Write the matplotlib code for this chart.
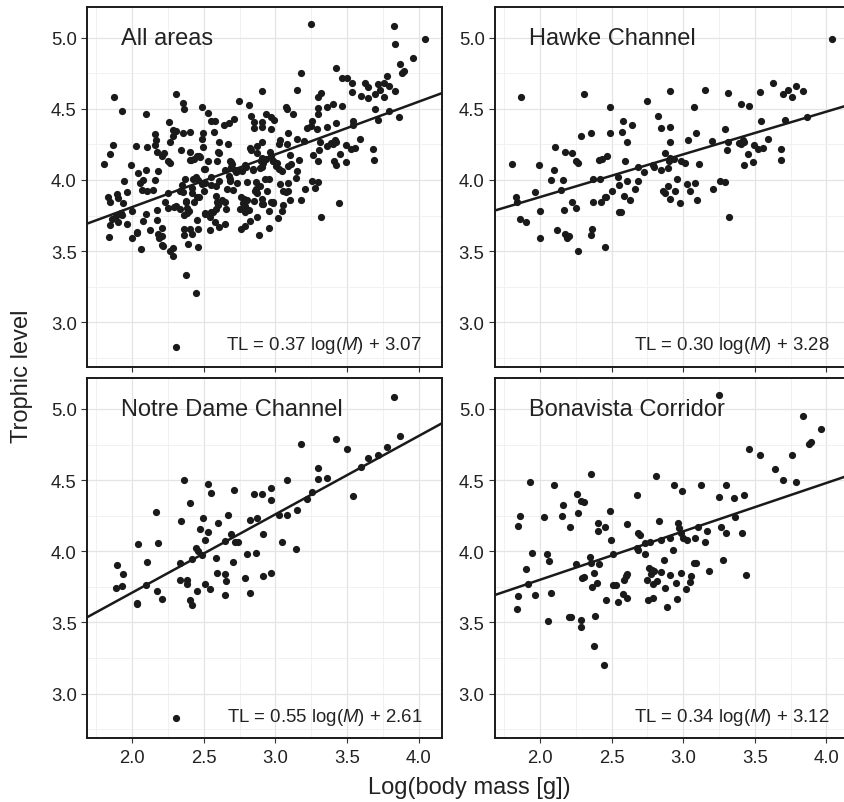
import numpy as np
import matplotlib
matplotlib.use('Agg')
import matplotlib.pyplot as plt
from matplotlib.ticker import MultipleLocator

# ---- data: log10 body mass [g] vs trophic level ----
hawke_x = [4.042, 1.870, 2.309, 2.486, 2.747, 2.907, 3.077, 3.153, 3.316, 3.402,
           3.463, 3.537, 3.628, 3.695, 3.730, 3.758, 3.791, 3.837, 3.865, 3.714,
           3.542, 3.593, 3.556, 3.526, 3.495, 3.681, 3.686, 3.451, 3.423, 3.491,
           3.426, 3.402, 3.419, 3.391, 3.293, 3.314, 3.305, 3.256, 3.295, 3.319,
           3.202, 3.205, 3.091, 3.035, 3.112, 3.086, 3.030, 3.051, 3.100, 3.012,
           2.986, 2.956, 2.940, 2.981, 2.907, 2.893, 2.858, 2.870, 2.905, 2.847,
           2.826, 2.905, 2.874, 2.898, 2.909, 2.937, 2.891, 2.842, 2.786, 2.793,
           2.726, 2.688, 2.684, 2.665, 2.626, 2.586, 2.609, 2.595, 2.605, 2.644,
           2.579, 2.570, 2.491, 2.547, 2.549, 2.553, 2.563, 2.502, 2.463, 2.451,
           2.428, 2.372, 2.456, 2.465, 2.433, 2.421, 2.367, 2.356, 2.288, 2.360,
           2.358, 2.265, 2.253, 2.265, 2.223, 2.172, 2.251, 2.226, 2.170, 2.177,
           2.188, 2.205, 2.121, 2.158, 2.144, 2.105, 2.098, 2.077, 1.991, 1.963,
           1.998, 2.000, 1.902, 1.860, 1.830, 1.842, 1.802, 2.409]
hawke_y = [4.988, 4.583, 4.604, 4.513, 4.557, 4.623, 4.513, 4.630, 4.611, 4.536,
           4.520, 4.621, 4.679, 4.602, 4.630, 4.581, 4.660, 4.628, 4.443, 4.422,
           4.417, 4.286, 4.222, 4.218, 4.248, 4.215, 4.143, 4.185, 4.103, 4.126,
           4.267, 4.251, 4.279, 4.262, 4.356, 4.267, 4.208, 3.991, 3.984, 3.742,
           4.274, 3.937, 4.328, 4.279, 4.112, 3.981, 3.970, 3.920, 3.857, 4.119,
           4.131, 4.009, 3.920, 3.838, 3.869, 3.960, 3.920, 3.906, 4.372, 4.363,
           4.450, 4.267, 4.187, 4.131, 4.155, 4.150, 4.087, 4.068, 4.103, 4.091,
           4.056, 4.091, 3.995, 3.937, 3.859, 3.888, 3.991, 4.136, 4.265, 4.384,
           4.415, 4.335, 4.333, 4.021, 3.967, 3.775, 3.773, 3.920, 3.883, 3.878,
           3.843, 3.848, 3.527, 4.169, 4.150, 4.009, 4.005, 4.328, 4.311, 3.658,
           3.611, 3.501, 4.133, 4.119, 4.192, 4.199, 3.801, 3.843, 3.789, 3.621,
           3.593, 3.604, 3.649, 4.000, 3.932, 4.232, 4.070, 3.998, 4.103, 3.918,
           3.785, 3.590, 3.703, 3.724, 3.881, 3.845, 4.115, 4.143]

notre_x = [3.826, 3.870, 3.781, 3.716, 3.649, 3.595, 3.540, 3.502, 3.423, 3.360,
           3.298, 3.295, 3.256, 3.221, 3.177, 3.149, 3.144, 3.079, 3.079, 3.026,
           3.047, 2.967, 2.967, 2.909, 2.847, 2.874, 2.819, 2.916, 2.863, 2.802,
           2.972, 2.916, 2.786, 2.819, 2.714, 2.670, 2.688, 2.651, 2.719, 2.737,
           2.707, 2.649, 2.653, 2.595, 2.649, 2.588, 2.598, 2.547, 2.528, 2.530,
           2.491, 2.470, 2.507, 2.444, 2.460, 2.484, 2.416, 2.509, 2.542, 2.453,
           2.402, 2.358, 2.337, 2.333, 2.333, 2.381, 2.384, 2.400, 2.416, 2.165,
           2.177, 2.037, 2.100, 2.093, 2.174, 2.205, 2.030, 2.035, 1.895, 1.937,
           1.886, 1.928, 2.303]
notre_y = [5.084, 4.813, 4.731, 4.675, 4.654, 4.591, 4.388, 4.720, 4.790, 4.516,
           4.582, 4.509, 4.416, 4.367, 4.755, 4.287, 4.014, 4.498, 4.255, 4.252,
           4.065, 4.446, 4.360, 4.404, 4.404, 4.236, 4.222, 4.119, 3.986, 3.984,
           3.846, 3.829, 3.815, 3.710, 4.428, 4.252, 4.124, 4.072, 4.068, 4.068,
           3.928, 3.843, 3.794, 3.846, 3.694, 3.956, 4.196, 4.411, 4.472, 4.136,
           4.231, 4.159, 4.079, 4.023, 4.000, 3.972, 3.944, 3.769, 3.738, 3.720,
           4.336, 4.500, 4.210, 3.921, 3.797, 3.801, 3.769, 3.657, 3.624, 4.278,
           4.061, 4.051, 3.925, 3.762, 3.720, 3.664, 3.636, 3.629, 3.904, 3.841,
           3.745, 3.757, 2.827]

bona_x = [3.247, 3.835, 3.963, 3.895, 3.881, 3.463, 3.537, 3.758, 3.644, 3.695,
          3.791, 2.812, 2.356, 1.930, 2.095, 2.937, 2.993, 3.126, 3.300, 3.249,
          3.358, 3.423, 2.679, 2.260, 2.288, 2.309, 2.158, 2.267, 2.156, 2.028,
          1.863, 1.847, 2.209, 2.486, 2.402, 2.405, 2.453, 2.605, 2.830, 2.965,
          2.972, 2.984, 3.002, 3.028, 3.105, 3.086, 3.167, 3.153, 3.263, 3.298,
          3.363, 3.409, 3.279, 3.442, 3.179, 2.686, 2.700, 2.735, 2.767, 2.844,
          2.905, 2.679, 2.684, 2.733, 2.928, 2.863, 2.760, 2.781, 2.798, 2.772,
          2.847, 2.905, 2.984, 3.053, 3.077, 3.088, 2.751, 2.788, 2.816, 2.953,
          3.049, 3.021, 2.874, 2.758, 2.786, 2.886, 2.958, 2.605, 2.577, 2.542,
          2.458, 2.509, 2.533, 2.584, 2.600, 2.609, 2.509, 2.498, 2.414, 2.347,
          2.356, 2.377, 2.293, 2.307, 2.360, 2.395, 2.251, 2.386, 2.284, 2.288,
          2.205, 2.216, 2.377, 2.447, 2.058, 2.077, 1.963, 1.844, 1.837, 1.919,
          1.902, 1.942, 2.051, 2.065]
bona_y = [5.096, 4.953, 4.860, 4.769, 4.755, 4.717, 4.680, 4.680, 4.575, 4.502,
          4.488, 4.530, 4.544, 4.488, 4.465, 4.463, 4.421, 4.465, 4.465, 4.381,
          4.371, 4.397, 4.397, 4.404, 4.350, 4.346, 4.325, 4.266, 4.248, 4.241,
          4.248, 4.180, 4.168, 4.285, 4.196, 4.143, 4.168, 4.192, 4.210, 4.196,
          4.166, 4.131, 4.096, 4.077, 4.173, 4.096, 4.140, 4.065, 4.173, 4.131,
          4.238, 4.131, 3.942, 3.836, 3.860, 4.131, 4.114, 4.061, 4.065, 4.077,
          4.091, 4.026, 4.007, 3.979, 4.009, 3.937, 3.883, 3.869, 3.862, 3.839,
          3.853, 3.832, 3.846, 3.825, 3.916, 3.921, 3.797, 3.773, 3.792, 3.780,
          3.785, 3.734, 3.743, 3.657, 3.675, 3.612, 3.666, 3.673, 3.703, 3.647,
          3.657, 3.762, 3.764, 3.797, 3.827, 3.843, 3.981, 4.077, 3.909, 3.963,
          3.916, 3.850, 3.811, 3.820, 3.752, 3.780, 3.909, 3.547, 3.519, 3.465,
          3.540, 3.535, 3.332, 3.203, 3.512, 3.710, 3.694, 3.685, 3.598, 3.769,
          3.874, 3.991, 3.979, 3.932]

titles = ['All areas', 'Hawke Channel', 'Notre Dame Channel', 'Bonavista Corridor']
slopes = [0.37, 0.30, 0.55, 0.34]
intercepts = [3.07, 3.28, 2.61, 3.12]

plt.rcParams['font.family'] = ['Liberation Sans', 'DejaVu Sans']
plt.rcParams['mathtext.fontset'] = 'custom'
plt.rcParams['mathtext.rm'] = 'Liberation Sans'
plt.rcParams['mathtext.it'] = 'Liberation Sans:italic'

XLIM = (1.686, 4.161)
YLIM = (2.686, 5.218)
TXT = '#222222'


def panel(ax, x, y, title, slope, icpt, xlabels=True):
    ax.set_xlim(XLIM)
    ax.set_ylim(YLIM)
    ax.xaxis.set_major_locator(MultipleLocator(0.5))
    ax.yaxis.set_major_locator(MultipleLocator(0.5))
    ax.xaxis.set_minor_locator(MultipleLocator(0.25))
    ax.yaxis.set_minor_locator(MultipleLocator(0.25))
    ax.grid(which='major', color='#e4e4e4', lw=0.9, zorder=0)
    ax.grid(which='minor', color='#efefef', lw=0.6, zorder=0)
    ax.set_axisbelow(True)
    ax.tick_params(which='minor', length=0)
    ax.tick_params(axis='x', which='major', length=3.5, width=0.8, color='#333333',
                   labelsize=13.3, labelcolor=TXT, pad=4, labelbottom=xlabels)
    ax.tick_params(axis='y', which='major', length=4.5, width=0.8, color='#333333',
                   labelsize=13.3, labelcolor=TXT, pad=3)
    ax.xaxis.set_major_formatter(lambda v, p: '%.1f' % v)
    ax.yaxis.set_major_formatter(lambda v, p: '%.1f' % v)
    for s in ax.spines.values():
        s.set_color('#1a1a1a')
        s.set_linewidth(1.4)

    ax.scatter(x, y, s=27, color='#1a1a1a', linewidths=0, zorder=3)
    xx = np.array(XLIM)
    ax.plot(xx, slope * xx + icpt, color='#1a1a1a', lw=1.8, zorder=4)

    ax.text(1.92, 5.0, title, fontsize=17, color=TXT, ha='left', va='center')
    eq = 'TL = %.2f log($\\mathit{M}$) + %.2f' % (slope, icpt)
    ax.text(4.025, 2.842, eq, fontsize=13.4, color=TXT, ha='right', va='center')


def main():
    all_x = hawke_x + notre_x + bona_x
    all_y = hawke_y + notre_y + bona_y
    sets = [(all_x, all_y), (hawke_x, hawke_y), (notre_x, notre_y), (bona_x, bona_y)]

    fig = plt.figure(figsize=(8.45, 8.03), dpi=100)
    w, h = 0.4194, 0.4488
    pos = [(0.1033, 0.5417), (0.5858, 0.5417), (0.1033, 0.0793), (0.5858, 0.0793)]
    for i in range(4):
        ax = fig.add_axes([pos[i][0], pos[i][1], w, h])
        panel(ax, sets[i][0], sets[i][1], titles[i], slopes[i], intercepts[i],
              xlabels=(i >= 2))

    fig.text(469 / 845, 1 - 788 / 803, 'Log(body mass [g])', fontsize=17, color=TXT,
             ha='center', va='center')
    fig.text(21.7 / 845, 1 - 375.8 / 803, 'Trophic level', fontsize=17, color=TXT,
             ha='center', va='center', rotation=90)

    fig.savefig('out.png', dpi=100)


if __name__ == '__main__':
    main()
